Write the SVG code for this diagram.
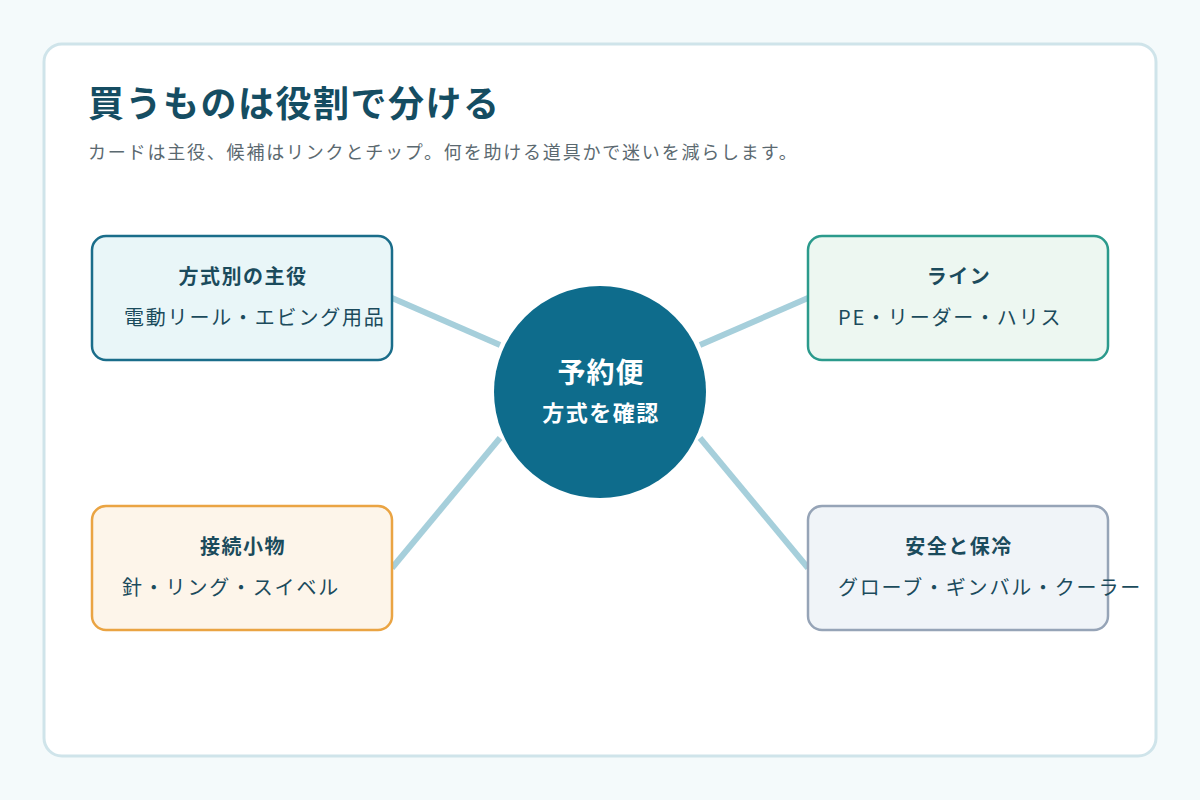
<svg xmlns="http://www.w3.org/2000/svg" width="1200" height="800" viewBox="0 0 1200 800">
<style>
text{font-family:"Noto Sans CJK JP","Noto Sans",sans-serif;}
.ttl{font-size:36px;font-weight:700;fill:#154d62;letter-spacing:1.5px;}
.sub{font-size:18px;fill:#5b6970;letter-spacing:1.8px;}
.nt{font-size:20px;font-weight:700;fill:#1b4b5c;text-anchor:middle;letter-spacing:1.5px;}
.nd{font-size:20px;fill:#1b4b5c;letter-spacing:1.8px;}
.conn{stroke:#a6cfdb;stroke-width:6;fill:none;}
.ct{fill:#ffffff;font-weight:700;text-anchor:middle;}
</style>
<rect width="1200" height="800" fill="#f4fafb"/>
<rect x="44" y="44" width="1112" height="712" rx="18" fill="#ffffff" stroke="#cfe4ea" stroke-width="3"/>
<text class="ttl" x="88" y="117">買うものは役割で分ける</text>
<text class="sub" x="88" y="159">カードは主役、候補はリンクとチップ。何を助ける道具かで迷いを減らします。</text>
<g id="connectors">
<line class="conn" x1="392" y1="298" x2="500" y2="345"/>
<line class="conn" x1="700" y1="345" x2="808" y2="298"/>
<line class="conn" x1="500" y1="438" x2="392" y2="568"/>
<line class="conn" x1="700" y1="438" x2="808" y2="568"/>
</g>
<g id="center">
<circle cx="600" cy="392" r="106" fill="#0e6c8c"/>
<text class="ct" x="601" y="383" font-size="28" letter-spacing="1">予約便</text>
<text class="ct" x="601" y="421" font-size="22" letter-spacing="1.5">方式を確認</text>
</g>
<g id="node-tl">
<rect x="92" y="236" width="300" height="124" rx="14" fill="#e9f6f8" stroke="#1a6d8a" stroke-width="2.5"/>
<text class="nt" x="243" y="284">方式別の主役</text>
<text class="nd" x="124" y="325">電動リール・エビング用品</text>
</g>
<g id="node-tr">
<rect x="808" y="236" width="300" height="124" rx="14" fill="#edf7f1" stroke="#2b9a8c" stroke-width="2.5"/>
<text class="nt" x="959" y="284">ライン</text>
<text class="nd" x="838" y="325">PE・リーダー・ハリス</text>
</g>
<g id="node-bl">
<rect x="92" y="506" width="300" height="124" rx="14" fill="#fdf5ea" stroke="#eaa443" stroke-width="2.5"/>
<text class="nt" x="243" y="554">接続小物</text>
<text class="nd" x="122" y="595">針・リング・スイベル</text>
</g>
<g id="node-br">
<rect x="808" y="506" width="300" height="124" rx="14" fill="#f0f4f8" stroke="#96a4b7" stroke-width="2.5"/>
<text class="nt" x="959" y="554">安全と保冷</text>
<text class="nd" x="838" y="595">グローブ・ギンバル・クーラー</text>
</g>
</svg>
